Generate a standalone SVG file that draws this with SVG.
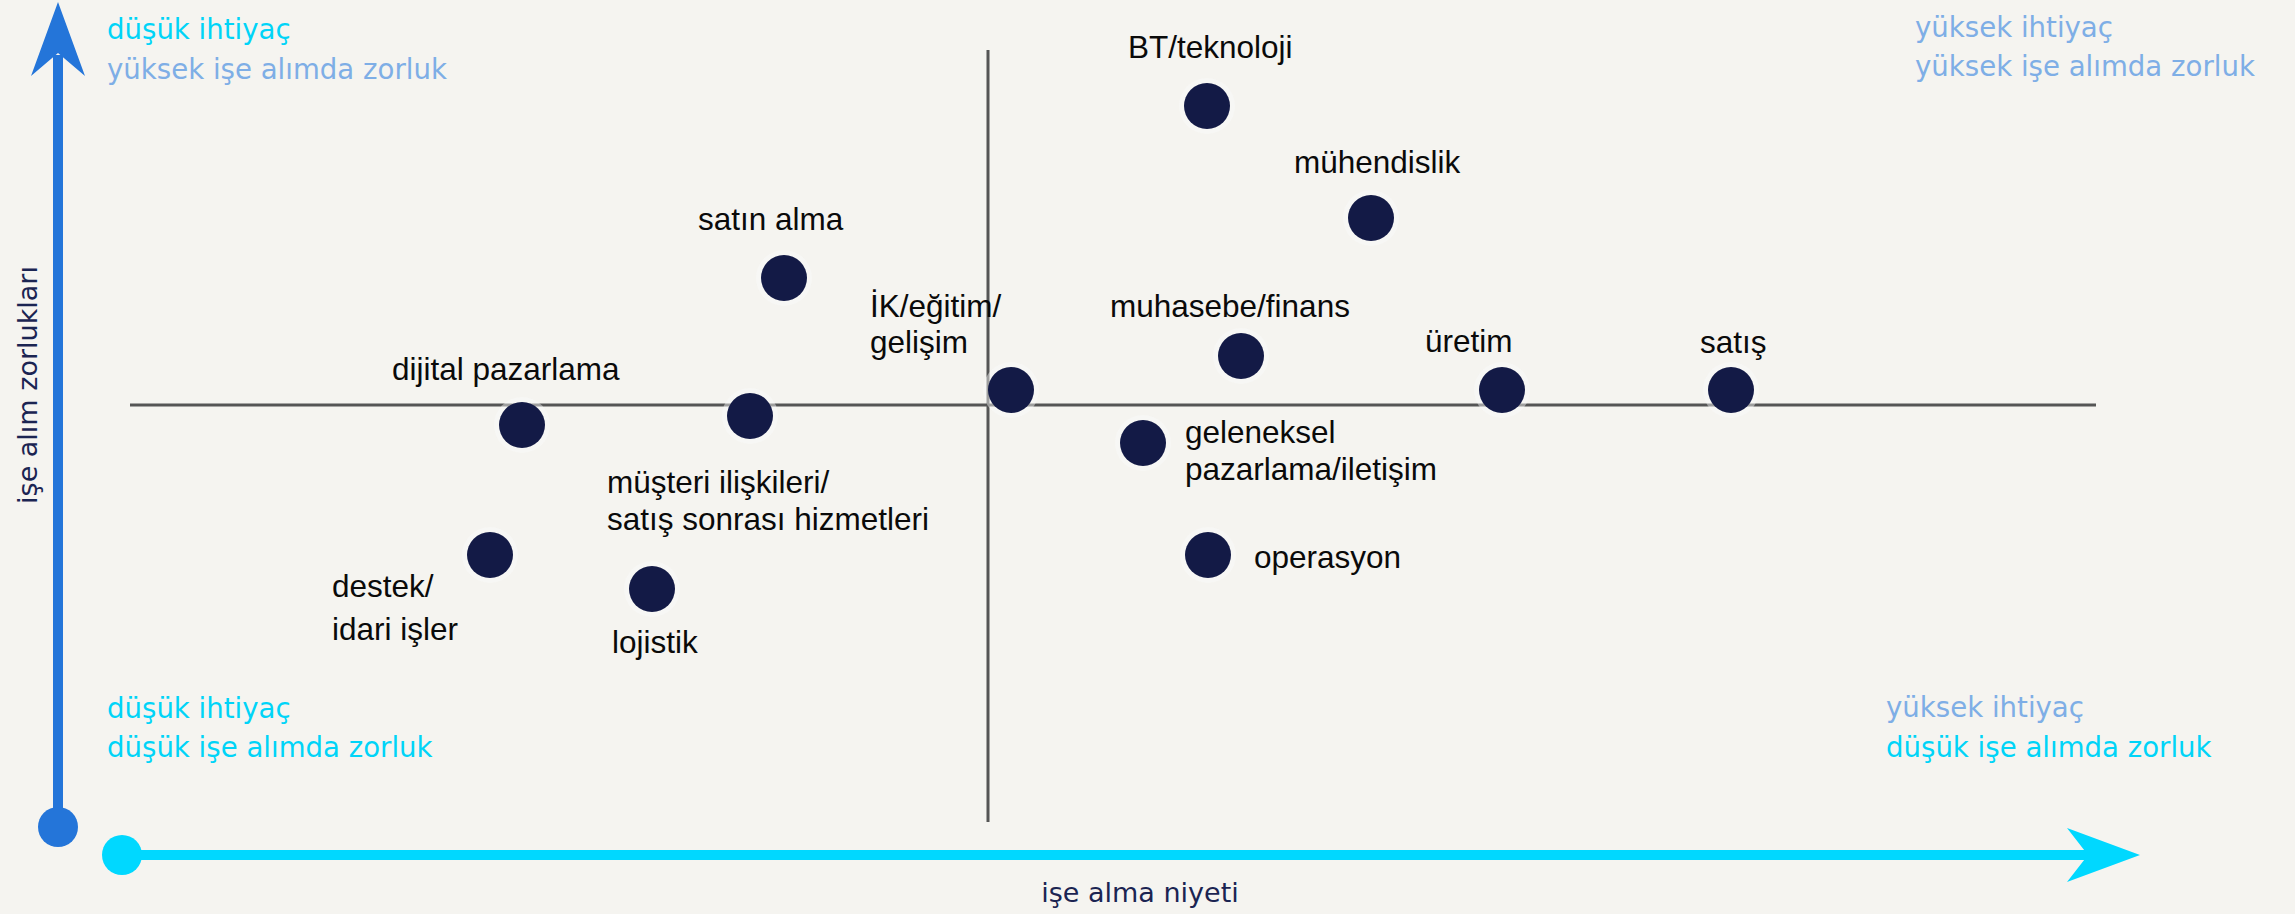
<svg xmlns="http://www.w3.org/2000/svg" width="2295" height="914" viewBox="0 0 2295 914">
<style>
.bg{fill:#f5f4f0}
.dot{fill:#131a46}
.halo{fill:#fbfbfa;opacity:0.45}
.lbl{font-family:"Liberation Sans",Arial,sans-serif;font-size:31.5px;fill:#0a0a0a}
.q{font-family:"DejaVu Sans",Verdana,sans-serif;font-size:27.6px}
.cy{fill:#00d4f8}
.lb{fill:#7eaee6}
.ax{font-family:"DejaVu Sans",Verdana,sans-serif;font-size:27px;fill:#1b2452}
.grid{stroke:#555555;stroke-width:3;fill:none}
</style>
<rect class="bg" x="0" y="0" width="2295" height="914"/>
<g id="connectors">
  <line class="grid" x1="130" y1="405" x2="2096" y2="405"/>
  <line class="grid" x1="988" y1="50" x2="988" y2="822"/>
  <line x1="58" y1="55" x2="58" y2="827" stroke="#2475d9" stroke-width="10"/>
  <polygon points="58,2 85,76 58,53 31,76" fill="#2475d9"/>
  <circle cx="58" cy="827" r="20" fill="#2475d9"/>
  <line x1="122" y1="855" x2="2090" y2="855" stroke="#00d8ff" stroke-width="10"/>
  <polygon points="2140,855 2067,882 2088,855 2067,828" fill="#00d8ff"/>
  <circle cx="122" cy="855" r="20" fill="#00d8ff"/>
</g>
<g id="quadrant-labels">
  <text class="q cy" x="107" y="39">düşük ihtiyaç</text>
  <text class="q lb" x="107" y="79">yüksek işe alımda zorluk</text>
  <text class="q lb" x="1915" y="37">yüksek ihtiyaç</text>
  <text class="q lb" x="1915" y="76">yüksek işe alımda zorluk</text>
  <text class="q cy" x="107" y="718">düşük ihtiyaç</text>
  <text class="q cy" x="107" y="757">düşük işe alımda zorluk</text>
  <text class="q lb" x="1886" y="717">yüksek ihtiyaç</text>
  <text class="q cy" x="1886" y="757">düşük işe alımda zorluk</text>
</g>
<g id="axis-labels">
  <text class="ax" x="1140" y="902" text-anchor="middle">işe alma niyeti</text>
  <text class="ax" transform="translate(37,385) rotate(-90)" text-anchor="middle">işe alım zorlukları</text>
</g>
<g id="node-bt">
  <circle class="halo" cx="1207" cy="106" r="28"/>
  <circle class="dot" cx="1207" cy="106" r="23"/>
  <text class="lbl" x="1128" y="58">BT/teknoloji</text>
</g>
<g id="node-muhendislik">
  <circle class="halo" cx="1371" cy="218" r="28"/>
  <circle class="dot" cx="1371" cy="218" r="23"/>
  <text class="lbl" x="1294" y="173">mühendislik</text>
</g>
<g id="node-satin-alma">
  <circle class="halo" cx="784" cy="278" r="28"/>
  <circle class="dot" cx="784" cy="278" r="23"/>
  <text class="lbl" x="698" y="230">satın alma</text>
</g>
<g id="node-ik">
  <circle class="halo" cx="1011" cy="390" r="28"/>
  <circle class="dot" cx="1011" cy="390" r="23"/>
  <text class="lbl" x="870" y="317">İK/eğitim/</text>
  <text class="lbl" x="870" y="353">gelişim</text>
</g>
<g id="node-muhasebe">
  <circle class="halo" cx="1241" cy="356" r="28"/>
  <circle class="dot" cx="1241" cy="356" r="23"/>
  <text class="lbl" x="1110" y="317">muhasebe/finans</text>
</g>
<g id="node-uretim">
  <circle class="halo" cx="1502" cy="390" r="28"/>
  <circle class="dot" cx="1502" cy="390" r="23"/>
  <text class="lbl" x="1425" y="352">üretim</text>
</g>
<g id="node-satis">
  <circle class="halo" cx="1731" cy="390" r="28"/>
  <circle class="dot" cx="1731" cy="390" r="23"/>
  <text class="lbl" x="1700" y="353">satış</text>
</g>
<g id="node-dijital">
  <circle class="halo" cx="522" cy="425" r="28"/>
  <circle class="dot" cx="522" cy="425" r="23"/>
  <text class="lbl" x="392" y="380">dijital pazarlama</text>
</g>
<g id="node-musteri">
  <circle class="halo" cx="750" cy="416" r="28"/>
  <circle class="dot" cx="750" cy="416" r="23"/>
  <text class="lbl" x="607" y="493">müşteri ilişkileri/</text>
  <text class="lbl" x="607" y="530">satış sonrası hizmetleri</text>
</g>
<g id="node-geleneksel">
  <circle class="halo" cx="1143" cy="443" r="28"/>
  <circle class="dot" cx="1143" cy="443" r="23"/>
  <text class="lbl" x="1185" y="443">geleneksel</text>
  <text class="lbl" x="1185" y="480">pazarlama/iletişim</text>
</g>
<g id="node-operasyon">
  <circle class="halo" cx="1208" cy="555" r="28"/>
  <circle class="dot" cx="1208" cy="555" r="23"/>
  <text class="lbl" x="1254" y="568">operasyon</text>
</g>
<g id="node-destek">
  <circle class="halo" cx="490" cy="555" r="28"/>
  <circle class="dot" cx="490" cy="555" r="23"/>
  <text class="lbl" x="332" y="597">destek/</text>
  <text class="lbl" x="332" y="640">idari işler</text>
</g>
<g id="node-lojistik">
  <circle class="halo" cx="652" cy="589" r="28"/>
  <circle class="dot" cx="652" cy="589" r="23"/>
  <text class="lbl" x="612" y="653">lojistik</text>
</g>
</svg>
